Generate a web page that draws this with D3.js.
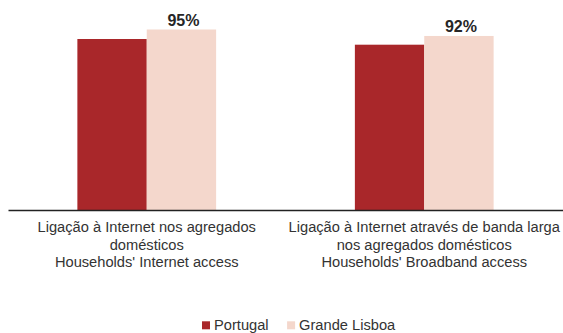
<!DOCTYPE html>
<html>
<head>
<meta charset="utf-8">
<script src="https://cdn.jsdelivr.net/npm/d3@7"></script>
<style>
  body { margin: 0; background: #fff; }
  text { font-family: "Liberation Sans", Arial, sans-serif; }
</style>
</head>
<body>
<div id="chart"></div>
<script>
// chart data
var categories = ["internet", "broadband"];
var categoryLabels = [
    ["Ligação à Internet nos agregados", "domésticos", "Households' Internet access"],
    ["Ligação à Internet através de banda larga", "nos agregados domésticos", "Households' Broadband access"]
];
var seriesNames = ["Portugal", "Grande Lisboa"];
var portugalValues = [90, 87];
var lisboaValues = [95, 91.6];
var colors = ["#a9272a", "#f4d7cc"];

var width = 563, height = 333;

var svg = d3.select("#chart").append("svg")
    .attr("width", width)
    .attr("height", height);

// scales
var x0 = d3.scaleBand().domain(categories).range([8, 563]);
var x1 = d3.scaleBand().domain(seriesNames).range([0, x0.bandwidth()]).paddingOuter(1);
var y = d3.scaleLinear().domain([0, 100]).range([210, 20]);
var color = d3.scaleOrdinal().domain(seriesNames).range(colors);

var rows = categories.map(function(c, i) {
    return { cat: c, values: [
        { name: seriesNames[0], value: portugalValues[i] },
        { name: seriesNames[1], value: lisboaValues[i] }
    ] };
});

var groups = svg.selectAll(".group")
    .data(rows)
    .enter().append("g")
    .attr("transform", function(d) { return "translate(" + x0(d.cat) + ",0)"; });

groups.selectAll("rect")
    .data(function(d) { return d.values; })
    .enter().append("rect")
    .attr("x", function(d) { return x1(d.name); })
    .attr("y", function(d) { return y(d.value); })
    .attr("width", x1.bandwidth())
    .attr("height", function(d) { return y(0) - y(d.value); })
    .style("fill", function(d) { return color(d.name); });

// value labels only on Grande Lisboa
groups.selectAll(".val")
    .data(function(d) { return d.values.filter(function(v) { return v.name === "Grande Lisboa"; }); })
    .enter().append("text")
    .attr("class", "val")
    .attr("x", function(d) { return x1(d.name) + x1.bandwidth() / 2 + 2; })
    .attr("y", function(d) { return y(d.value) - 4; })
    .attr("text-anchor", "middle")
    .style("font-size", "16px")
    .style("font-weight", "bold")
    .style("fill", "#262626")
    .text(function(d) { return Math.round(d.value) + "%"; });

// baseline axis
var xAxis = d3.axisBottom(x0).tickSize(0).tickFormat("");
svg.append("g")
    .attr("transform", "translate(0," + y(0) + ")")
    .call(xAxis)
    .call(function(g) { g.select(".domain").attr("stroke", "#222").attr("stroke-width", 1.5); });

// category labels
var lab = svg.selectAll(".cat")
    .data(categories)
    .enter().append("text")
    .attr("class", "cat")
    .attr("text-anchor", "middle")
    .style("font-size", "14.67px")
    .style("fill", "#333");

lab.selectAll("tspan")
    .data(function(d, i) { return categoryLabels[i]; })
    .enter().append("tspan")
    .attr("x", function() { var c = d3.select(this.parentNode).datum(); return x0(c) + x0.bandwidth() / 2; })
    .attr("y", function(d, i) { return 232 + i * 17.6; })
    .text(function(d) { return d; });

// legend
var legend = svg.append("g").attr("transform", "translate(202,330)");
var offset = 0;
seriesNames.forEach(function(s) {
    var item = legend.append("g").attr("transform", "translate(" + offset + ",0)");
    item.append("rect")
        .attr("x", 0).attr("y", -8.7)
        .attr("width", 8).attr("height", 8)
        .style("fill", color(s));
    var t = item.append("text")
        .attr("x", 12)
        .attr("y", 0)
        .style("font-size", "14.67px")
        .style("fill", "#333")
        .text(s);
    offset += 12 + t.node().getComputedTextLength() + 18.5;
});
</script>
</body>
</html>
